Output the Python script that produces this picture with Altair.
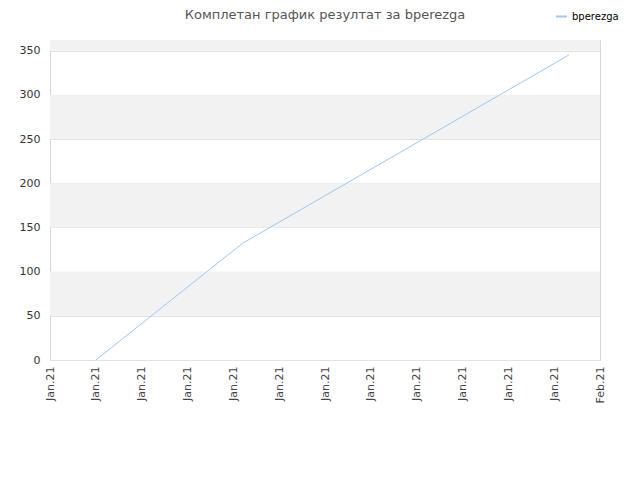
import json
import altair as alt
import pandas as pd

# --- data ---
x_index = [1.0, 4.2, 11.32]
scores = [0, 132, 345]
series = ["bperezga", "bperezga", "bperezga"]

tick_labels = ["Jan.21"] * 12 + ["Feb.21"]

band_lo = [50, 150, 250, 350]
band_hi = [100, 200, 300, 400]

line_df = pd.DataFrame({"x": x_index, "y": scores, "user": series})
band_df = pd.DataFrame({"lo": band_lo, "hi": band_hi})

y_scale = alt.Scale(domain=[0, 362], nice=False, zero=True)
x_scale = alt.Scale(domain=[0, 12], nice=False)

bands = alt.Chart(band_df).mark_rect(color="#f2f2f2", clip=True).encode(
    x=alt.value(0),
    x2=alt.value(550),
    y=alt.Y("lo:Q", scale=y_scale),
    y2="hi:Q",
)

line = alt.Chart(line_df).mark_line(strokeWidth=1).encode(
    x=alt.X(
        "x:Q",
        scale=x_scale,
        axis=alt.Axis(
            values=list(range(len(tick_labels))),
            labelExpr=json.dumps(tick_labels) + "[datum.value]",
            labelAngle=-90,
            labelAlign="right",
            labelBaseline="middle",
            labelPadding=6,
            labelFontSize=11,
            labelColor="#444444",
            labelFont="DejaVu Sans",
            ticks=False,
            domain=False,
            grid=False,
            title=None,
        ),
    ),
    y=alt.Y(
        "y:Q",
        scale=y_scale,
        axis=alt.Axis(
            values=[0, 50, 100, 150, 200, 250, 300, 350],
            labelFontSize=11,
            labelColor="#333333",
            labelFont="DejaVu Sans",
            labelPadding=10,
            ticks=False,
            domain=False,
            grid=True,
            gridColor="#e2e2e2",
            gridWidth=1,
            title=None,
        ),
    ),
    color=alt.Color(
        "user:N",
        scale=alt.Scale(range=["#99c9f5"]),
        legend=alt.Legend(
            title=None,
            orient="none",
            legendX=505,
            legendY=-30,
            symbolType="stroke",
            symbolSize=120,
            symbolStrokeWidth=2,
            labelFontSize=10,
            labelFont="DejaVu Sans",
            labelColor="#000000",
        ),
    ),
)

chart = (
    alt.layer(bands, line)
    .properties(
        width=550,
        height=320,
        title=alt.TitleParams(
            "Комплетан график резултат за bperezga",
            fontSize=13,
            font="DejaVu Sans",
            fontWeight="normal",
            color="#555555",
            anchor="middle",
            offset=-12,
        ),
        padding={"left": 42, "top": 32, "right": 30, "bottom": 100},
        autosize=alt.AutoSizeParams(type="none"),
    )
    .configure_view(stroke="#d6d6d6", strokeWidth=1)
)

chart.save("out.html", embed_options={"renderer": "svg", "actions": False})
